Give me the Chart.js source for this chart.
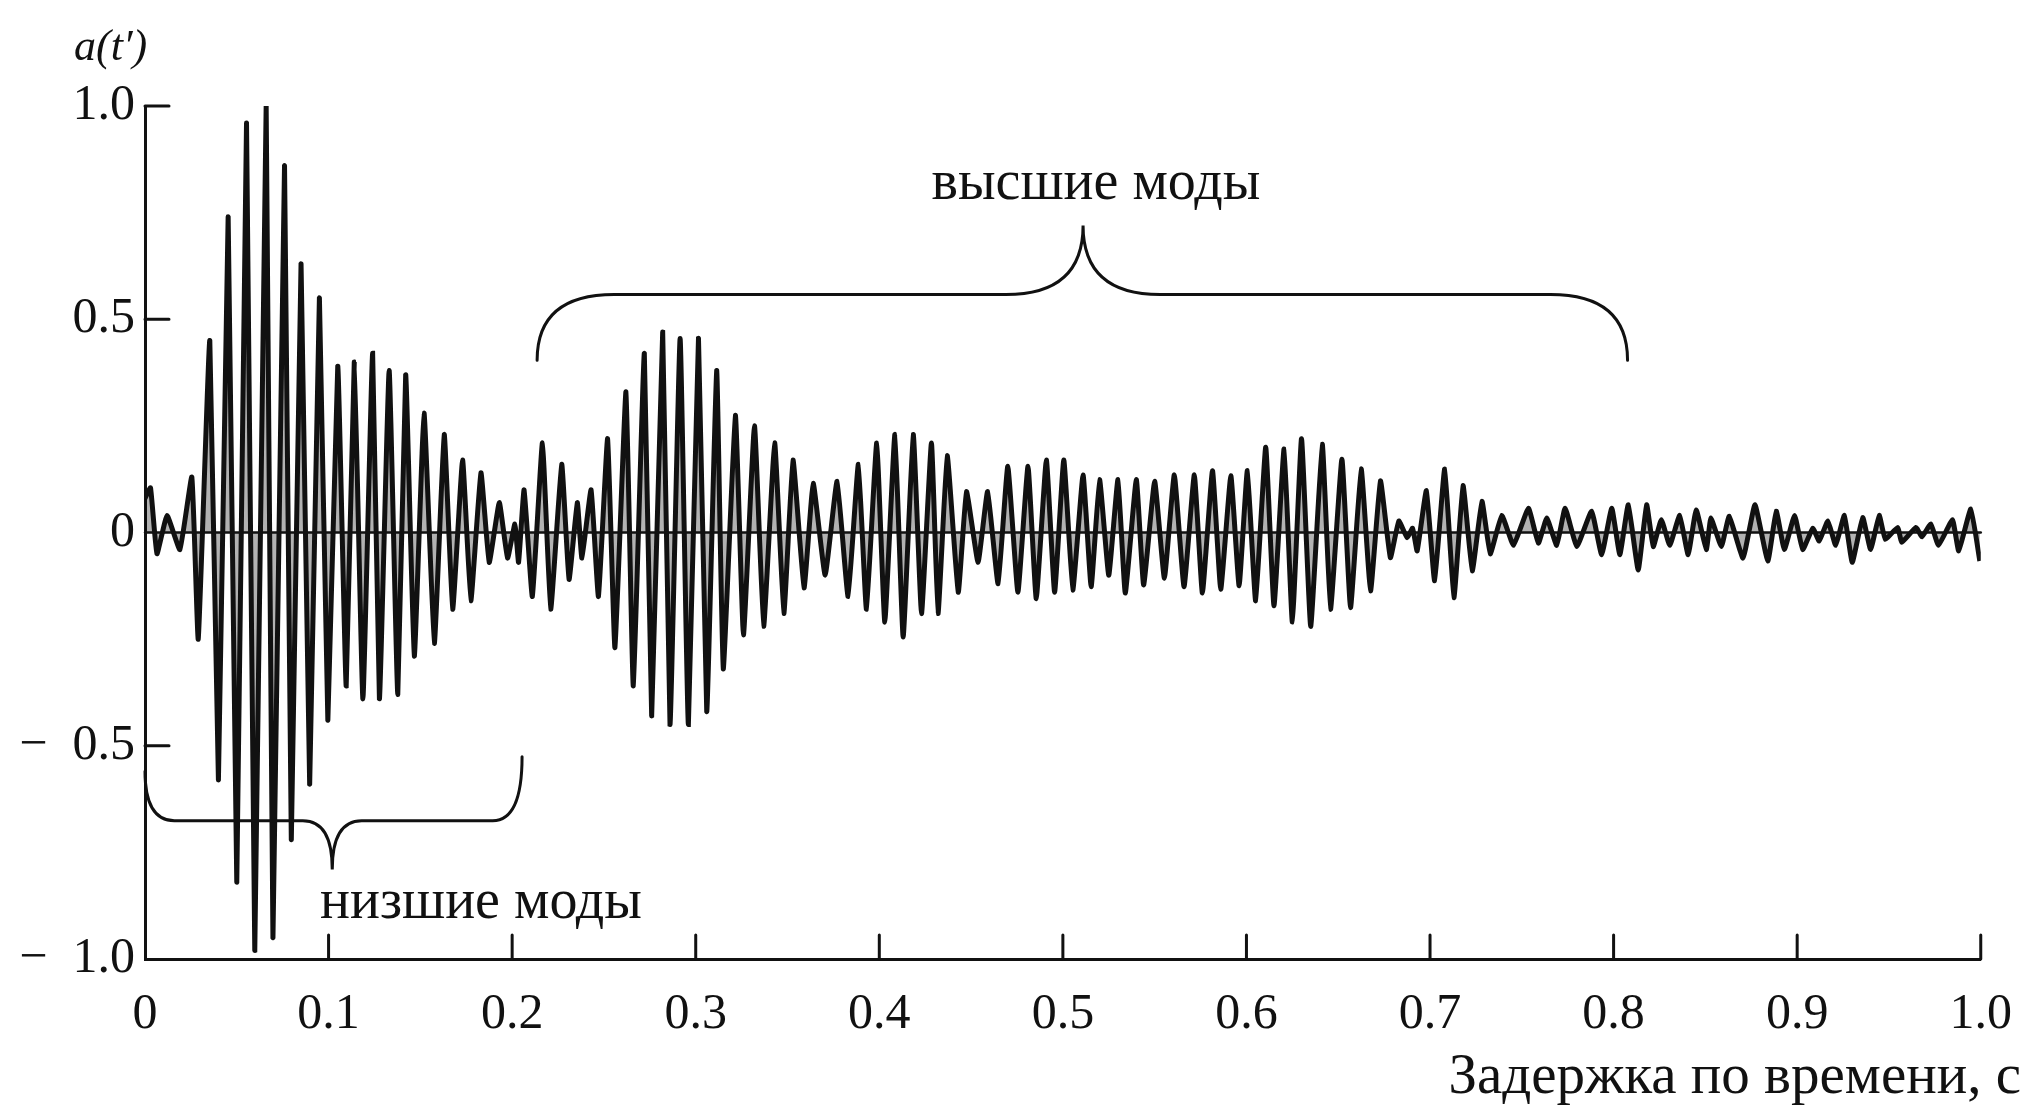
<!DOCTYPE html>
<html>
<head>
<meta charset="utf-8">
<script src="https://cdn.jsdelivr.net/npm/chart.js@4.4.1/dist/chart.umd.min.js"></script>
<style>
  html, body { margin: 0; padding: 0; background: #fff; }
  #wrap { width: 2030px; height: 1105px; position: relative; }
</style>
</head>
<body>
<div id="wrap"><canvas id="chart"></canvas></div>
<script>
// Times (s) of the turning points of the trace
const peakTimes = [
  0.000, 0.003, 0.0065, 0.012, 0.019, 0.0255, 0.029, 0.0353, 0.040, 0.0453,
  0.050, 0.0553, 0.0598, 0.066, 0.0697, 0.076, 0.0797, 0.085, 0.0897, 0.095,
  0.0996, 0.105, 0.1096, 0.114, 0.1187, 0.124, 0.1277, 0.133, 0.1377, 0.142,
  0.1467, 0.152, 0.1576, 0.163, 0.1676, 0.173, 0.1775, 0.183, 0.1875, 0.193,
  0.1975, 0.2015, 0.2035, 0.2065, 0.211, 0.2165, 0.221, 0.227, 0.231, 0.2355,
  0.238, 0.243, 0.247, 0.252, 0.256, 0.262, 0.266, 0.272, 0.276, 0.282,
  0.286, 0.2915, 0.296, 0.3015, 0.306, 0.3114, 0.315, 0.3216, 0.326, 0.332,
  0.337, 0.343, 0.348, 0.353, 0.359, 0.364, 0.3705, 0.377, 0.383, 0.3886,
  0.393, 0.3986, 0.403, 0.4085, 0.413, 0.4185, 0.423, 0.4284, 0.432, 0.437,
  0.443, 0.4475, 0.4538, 0.459, 0.4647, 0.470, 0.4755, 0.481, 0.4855, 0.491,
  0.4955, 0.5005, 0.5054, 0.511, 0.5154, 0.520, 0.525, 0.530, 0.534, 0.540,
  0.544, 0.550, 0.5553, 0.5607, 0.566, 0.5716, 0.576, 0.5815, 0.586, 0.5915,
  0.596, 0.6005, 0.605, 0.6105, 0.615, 0.6205, 0.625, 0.630, 0.635, 0.6413,
  0.6458, 0.652, 0.6567, 0.6625, 0.6676, 0.673, 0.6784, 0.683, 0.6875, 0.6905,
  0.693, 0.698, 0.7025, 0.708, 0.713, 0.718, 0.723, 0.7283, 0.7328, 0.7391,
  0.7455, 0.7536, 0.759, 0.7636, 0.769, 0.7736, 0.780, 0.788, 0.7935, 0.799,
  0.8034, 0.808, 0.8134, 0.818, 0.8216, 0.826, 0.8306, 0.836, 0.8406, 0.845,
  0.8505, 0.853, 0.8587, 0.863, 0.8705, 0.877, 0.884, 0.8886, 0.893, 0.8986,
  0.903, 0.9085, 0.912, 0.9167, 0.921, 0.9257, 0.930, 0.9357, 0.940, 0.9447,
  0.948, 0.9547, 0.957, 0.9647, 0.968, 0.9728, 0.977, 0.9846, 0.988, 0.9946,
  0.9995
];

// Amplitude a(t') at those turning points
const peakValues = [
  0.08, 0.105, -0.05, 0.04, -0.04, 0.13, -0.25, 0.45, -0.58, 0.74,
  -0.82, 0.96, -0.98, 1.00, -0.95, 0.86, -0.72, 0.63, -0.59, 0.55,
  -0.44, 0.39, -0.36, 0.40, -0.39, 0.42, -0.39, 0.38, -0.38, 0.37,
  -0.29, 0.28, -0.26, 0.23, -0.18, 0.17, -0.16, 0.14, -0.07, 0.07,
  -0.06, 0.02, -0.07, 0.10, -0.15, 0.21, -0.18, 0.16, -0.11, 0.07,
  -0.06, 0.10, -0.15, 0.22, -0.27, 0.33, -0.36, 0.42, -0.43, 0.47,
  -0.45, 0.455, -0.45, 0.455, -0.42, 0.38, -0.32, 0.275, -0.24, 0.25,
  -0.22, 0.21, -0.19, 0.17, -0.13, 0.115, -0.10, 0.12, -0.15, 0.16,
  -0.18, 0.21, -0.21, 0.23, -0.245, 0.23, -0.19, 0.21, -0.19, 0.18,
  -0.14, 0.096, -0.07, 0.096, -0.12, 0.155, -0.14, 0.155, -0.155, 0.17,
  -0.14, 0.17, -0.135, 0.135, -0.127, 0.124, -0.10, 0.124, -0.142, 0.124,
  -0.123, 0.12, -0.107, 0.135, -0.127, 0.135, -0.142, 0.145, -0.133, 0.133,
  -0.125, 0.145, -0.16, 0.20, -0.172, 0.196, -0.21, 0.22, -0.22, 0.207,
  -0.18, 0.172, -0.176, 0.149, -0.137, 0.121, -0.059, 0.027, -0.012, 0.01,
  -0.043, 0.098, -0.113, 0.149, -0.153, 0.11, -0.09, 0.073, -0.05, 0.04,
  -0.03, 0.057, -0.025, 0.034, -0.03, 0.057, -0.033, 0.05, -0.052, 0.057,
  -0.052, 0.065, -0.088, 0.065, -0.033, 0.03, -0.03, 0.04, -0.052, 0.053,
  -0.04, 0.034, -0.033, 0.038, -0.06, 0.065, -0.067, 0.05, -0.04, 0.04,
  -0.04, 0.01, -0.02, 0.027, -0.03, 0.04, -0.07, 0.035, -0.04, 0.04,
  -0.016, 0.012, -0.023, 0.012, -0.01, 0.02, -0.03, 0.03, -0.043, 0.055,
  -0.067
];

const xTickValues = [0, 0.1, 0.2, 0.3, 0.4, 0.5, 0.6, 0.7, 0.8, 0.9, 1.0];
const yTickValues = [-1.0, -0.5, 0, 0.5, 1.0];

const labelLow = 'низшие моды';
const labelHigh = 'высшие моды';
const yTitle = 'a(t\u2032)';
const xTitle = 'Задержка по времени, с';

// curly braces under / over the two groups of modes (data coordinates)
const braces = [
  { x0: 0, y0: -0.56, x1: 0.2054, y1: -0.526, line: -0.676, tip: 0.102, tipY: -0.79, r: 0.016 },
  { x0: 0.2136, y0: 0.404, x1: 0.8076, y1: 0.404, line: 0.558, tip: 0.511, tipY: 0.72, r: 0.042 }
];

const SERIF = '"Liberation Serif", "DejaVu Serif", serif';
const INK = '#111';

function fmtTick(v) {
  if (Math.abs(v) < 1e-9) return '0';
  return (v < 0 ? '\u2212\u2002' : '') + Math.abs(v).toFixed(1);
}

function drawBrace(ctx, x, y, b) {
  const X = v => x.getPixelForValue(v);
  const Y = v => y.getPixelForValue(v);
  ctx.beginPath();
  ctx.moveTo(X(b.x0), Y(b.y0));
  ctx.quadraticCurveTo(X(b.x0), Y(b.line), X(b.x0 + b.r), Y(b.line));
  ctx.lineTo(X(b.tip - b.r), Y(b.line));
  ctx.quadraticCurveTo(X(b.tip), Y(b.line), X(b.tip), Y(b.tipY));
  ctx.quadraticCurveTo(X(b.tip), Y(b.line), X(b.tip + b.r), Y(b.line));
  ctx.lineTo(X(b.x1 - b.r), Y(b.line));
  ctx.quadraticCurveTo(X(b.x1), Y(b.line), X(b.x1), Y(b.y1));
  ctx.stroke();
}

const decorations = {
  id: 'decorations',
  afterDatasetsDraw(chart) {
    const { ctx, chartArea: a, scales: { x, y } } = chart;
    ctx.save();
    ctx.strokeStyle = INK;
    ctx.lineCap = 'round';

    // zero line
    ctx.lineWidth = 2.5;
    ctx.beginPath();
    ctx.moveTo(a.left, y.getPixelForValue(0));
    ctx.lineTo(a.right, y.getPixelForValue(0));
    ctx.stroke();

    // tick marks pointing into the plot
    ctx.lineWidth = 3;
    ctx.beginPath();
    xTickValues.forEach(v => {
      if (v === 0) return;
      const px = x.getPixelForValue(v);
      ctx.moveTo(px, a.bottom);
      ctx.lineTo(px, a.bottom - 24);
    });
    yTickValues.forEach(v => {
      if (v === 0 || v === -1) return;
      const py = y.getPixelForValue(v);
      ctx.moveTo(a.left, py);
      ctx.lineTo(a.left + 24, py);
    });
    ctx.stroke();

    // braces
    ctx.lineWidth = 3;
    braces.forEach(b => drawBrace(ctx, x, y, b));

    // labels
    ctx.fillStyle = INK;
    ctx.textAlign = 'center';
    ctx.textBaseline = 'alphabetic';
    ctx.font = '56px ' + SERIF;
    ctx.fillText(labelHigh, x.getPixelForValue(0.518), y.getPixelForValue(0.782));
    ctx.fillText(labelLow, x.getPixelForValue(0.183), y.getPixelForValue(-0.905));

    ctx.textAlign = 'left';
    ctx.font = 'italic 44px ' + SERIF;
    ctx.fillText(yTitle, a.left - 71, a.top - 46);

    ctx.textAlign = 'right';
    ctx.font = '57px ' + SERIF;
    ctx.fillText(xTitle, 2021, 1093);
    ctx.restore();
  }
};

new Chart(document.getElementById('chart'), {
  type: 'line',
  data: {
    datasets: [{
      data: peakTimes.map((t, i) => ({ x: t, y: peakValues[i] })),
      borderColor: INK,
      borderWidth: 5,
      backgroundColor: 'rgba(0, 0, 0, 0.3)',
      fill: 'origin',
      pointRadius: 0,
      tension: 0.12
    }]
  },
  options: {
    responsive: true,
    maintainAspectRatio: false,
    devicePixelRatio: 1,
    animation: false,
    layout: { padding: { top: 106, right: 45, bottom: 0, left: 0 } },
    plugins: { legend: { display: false }, tooltip: { enabled: false } },
    scales: {
      x: {
        type: 'linear',
        min: 0,
        max: 1,
        afterBuildTicks: s => { s.ticks = xTickValues.map(v => ({ value: v })); },
        afterFit: s => { s.height = 146; },
        grid: { display: false },
        border: { display: true, color: INK, width: 3 },
        ticks: {
          color: INK,
          padding: 18,
          maxRotation: 0,
          autoSkip: false,
          font: { family: SERIF, size: 50 },
          callback: fmtTick
        }
      },
      y: {
        min: -1,
        max: 1,
        afterBuildTicks: s => { s.ticks = yTickValues.map(v => ({ value: v })); },
        afterFit: s => { s.width = 145; },
        grid: { display: false },
        border: { display: true, color: INK, width: 3 },
        ticks: {
          color: INK,
          padding: 2,
          font: { family: SERIF, size: 50 },
          callback: fmtTick
        }
      }
    }
  },
  plugins: [decorations]
});
</script>
</body>
</html>
